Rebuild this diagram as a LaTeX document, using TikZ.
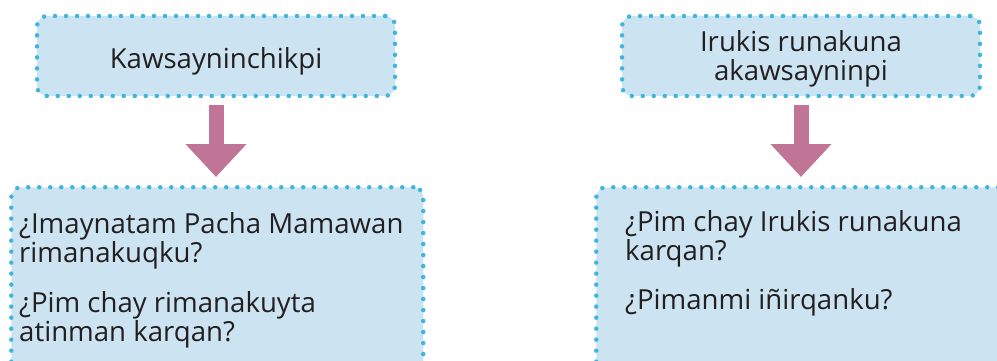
\documentclass[tikz,border=0pt]{standalone}
\usepackage{fontspec}
\setmainfont{Open Sans}
\usetikzlibrary{arrows.meta}

\definecolor{boxfill}{HTML}{CCE4F1}
\definecolor{dotblue}{HTML}{40B6DC}
\definecolor{arrowpink}{HTML}{C07597}
\definecolor{textgray}{HTML}{231F20}

\tikzset{
  dotbox/.style={draw=dotblue, fill=boxfill, line width=4.5pt, line cap=round,
    dash pattern=on 0pt off 11pt, rounded corners=10pt, inner sep=0pt},
  boxtext/.style={text=textgray, font=\fontsize{27.6}{29.5}\selectfont, inner sep=0pt},
  downarrow/.style={draw=arrowpink, line width=15pt,
    -{Triangle[width=59pt,length=33pt]}, shorten <=7pt, shorten >=8pt}
}

\begin{document}
\begin{tikzpicture}[x=1pt,y=-1pt]
  \useasboundingbox (0,0) rectangle (997,361);

  \node[dotbox, minimum width=358pt, minimum height=80pt] (topL) at (216,56) {};
  \node[dotbox, minimum width=358pt, minimum height=80pt] (topR) at (801,56) {};
  \node[boxtext] (topLtext) at (216,61) {Kawsayninchikpi};
  \node[boxtext, align=center] (topRtext) at (801,59) {Irukis runakuna\\ akawsayninpi};

  \node[dotbox, minimum width=412pt, minimum height=200pt, anchor=north west] (botL) at (9,185) {};
  \node[dotbox, minimum width=412pt, minimum height=200pt, anchor=north west] (botR) at (594,185) {};

  \node[boxtext, align=left, anchor=north west] (botLtext) at (19,212) {¿Imaynatam Pacha Mamawan\\ rimanakuqku?\\[20pt] ¿Pim chay rimanakuyta\\ atinman karqan?};
  \node[boxtext, align=left, anchor=north west] (botRtext) at (625,210) {¿Pim chay Irukis runakuna\\ karqan?\\[19pt] ¿Pimanmi iñirqanku?};

  \draw[downarrow] (topL.south) -- (topL.south |- botL.north);
  \draw[downarrow] (topR.south) -- (topR.south |- botR.north);
\end{tikzpicture}
\end{document}
